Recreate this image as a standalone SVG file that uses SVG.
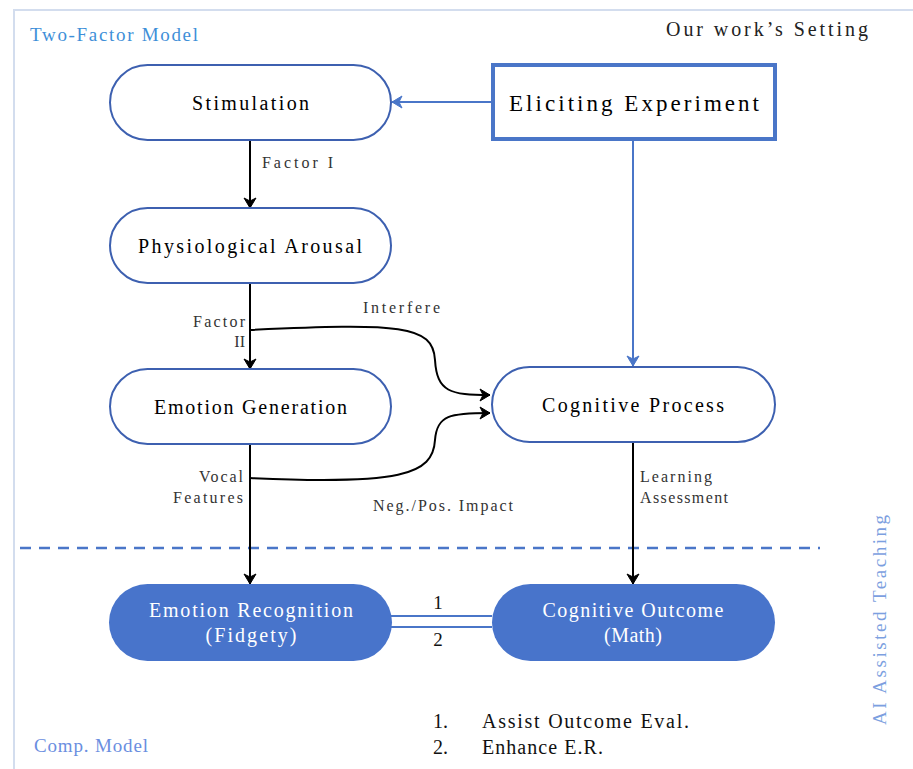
<svg xmlns="http://www.w3.org/2000/svg" width="913" height="769" viewBox="0 0 913 769">
<style>
text{font-family:"Liberation Serif","DejaVu Serif",serif}
.node{font-size:20px;fill:#000;text-anchor:middle}
.pill{fill:#fff;stroke:#3d60b0;stroke-width:2}
.fill{fill:#4874cb;stroke:none}
.wt{font-size:20px;fill:#fff;text-anchor:middle}
.lbl{font-size:16px;fill:#333}
.k{fill:none;stroke:#000;stroke-width:2}
.b{fill:none;stroke:#4a76c8;stroke-width:2}
</style>
<defs>
<marker id="ak" markerWidth="16" markerHeight="16" refX="12" refY="8" orient="auto" markerUnits="userSpaceOnUse">
<path d="M2,2 L12,8 L2,14 L5,8 z" fill="#000" stroke="#000" stroke-width="1" stroke-linejoin="round"/>
</marker>
<marker id="ab" markerWidth="16" markerHeight="16" refX="12" refY="8" orient="auto" markerUnits="userSpaceOnUse">
<path d="M2,2 L12,8 L2,14 L5,8 z" fill="#4a76c8" stroke="#4a76c8" stroke-width="1" stroke-linejoin="round"/>
</marker>
</defs>
<rect x="14" y="10" width="920" height="780" fill="#fff" stroke="#d3ddee" stroke-width="2"/>
<text x="30" y="41" textLength="168" style="font-size:19px;fill:#3e8fd8">Two-Factor Model</text>
<text x="34" y="752" textLength="114" style="font-size:19px;fill:#6a8ee0">Comp. Model</text>
<text x="666" y="36" textLength="202" style="font-size:20px;fill:#222">Our work’s Setting</text>
<text transform="translate(886,725) rotate(-90)" textLength="210" style="font-size:19px;fill:#7c9fe0">AI Assisted Teaching</text>
<line x1="20" y1="548" x2="820" y2="548" stroke="#4a76c8" stroke-width="2.5" stroke-dasharray="11,8"/>
<g id="connectors">
<line class="b" x1="492" y1="102" x2="392" y2="102" marker-end="url(#ab)"/>
<line class="b" x1="633" y1="141" x2="633" y2="366" marker-end="url(#ab)"/>
<line class="k" x1="250" y1="140" x2="250" y2="208" marker-end="url(#ak)"/>
<line class="k" x1="250" y1="283" x2="250" y2="369" marker-end="url(#ak)"/>
<line class="k" x1="250" y1="444" x2="250" y2="584" marker-end="url(#ak)"/>
<line class="k" x1="633" y1="442" x2="633" y2="584" marker-end="url(#ak)"/>
<path class="k" d="M250,330 C400,323 433,325 435,360 C437,392 450,395 490,395" marker-end="url(#ak)"/>
<path class="k" d="M250,478 C400,485 433,475 435,440 C437,415 450,413 490,413" marker-end="url(#ak)"/>
<line class="b" x1="391" y1="616" x2="492" y2="616"/>
<line class="b" x1="391" y1="627" x2="492" y2="627"/>
<text class="lbl" x="262" y="168" textLength="71">Factor I</text>
<text class="lbl" x="193" y="327" textLength="52">Factor</text>
<text class="lbl" x="245" y="347" text-anchor="end">II</text>
<text class="lbl" x="363" y="313" textLength="77">Interfere</text>
<text class="lbl" x="199" y="482" textLength="44">Vocal</text>
<text class="lbl" x="173" y="503" textLength="70">Features</text>
<text class="lbl" x="373" y="511" textLength="140">Neg./Pos. Impact</text>
<text class="lbl" x="640" y="482" textLength="72">Learning</text>
<text class="lbl" x="640" y="503" textLength="88">Assessment</text>
<text x="438" y="609" style="font-size:19px;fill:#111" text-anchor="middle">1</text>
<text x="438" y="646" style="font-size:19px;fill:#111" text-anchor="middle">2</text>
</g>
<g id="stimulation">
<rect class="pill" x="110" y="65" width="281" height="75" rx="37.5"/>
<text class="node" x="250.5" y="110" textLength="117">Stimulation</text>
</g>
<g id="eliciting">
<rect x="493" y="65" width="282" height="74" fill="#fff" stroke="#4a76c8" stroke-width="4"/>
<text x="634" y="111" textLength="250" style="font-size:23px;fill:#000" text-anchor="middle">Eliciting Experiment</text>
</g>
<g id="arousal">
<rect class="pill" x="110" y="208" width="281" height="75" rx="37.5"/>
<text class="node" x="250" y="253" textLength="224">Physiological Arousal</text>
</g>
<g id="emotion-generation">
<rect class="pill" x="110" y="369" width="281" height="75" rx="37.5"/>
<text class="node" x="250.5" y="414" textLength="193">Emotion Generation</text>
</g>
<g id="cognitive-process">
<rect class="pill" x="492" y="367" width="283" height="75" rx="37.5"/>
<text class="node" x="633" y="412" textLength="182">Cognitive Process</text>
</g>
<g id="emotion-recognition">
<rect class="fill" x="109" y="584" width="283" height="77" rx="38.5"/>
<text class="wt" x="251" y="617" textLength="204">Emotion Recognition</text>
<text class="wt" x="251" y="642" textLength="91">(Fidgety)</text>
</g>
<g id="cognitive-outcome">
<rect class="fill" x="492" y="584" width="283" height="77" rx="38.5"/>
<text class="wt" x="633" y="617" textLength="181">Cognitive Outcome</text>
<text class="wt" x="633" y="642" textLength="58">(Math)</text>
</g>
<g id="legend">
<text x="433" y="728" style="font-size:20px;fill:#111">1.</text>
<text x="482" y="728" textLength="207" style="font-size:20px;fill:#111">Assist Outcome Eval.</text>
<text x="433" y="754" style="font-size:20px;fill:#111">2.</text>
<text x="482" y="754" textLength="121" style="font-size:20px;fill:#111">Enhance E.R.</text>
</g>
</svg>
